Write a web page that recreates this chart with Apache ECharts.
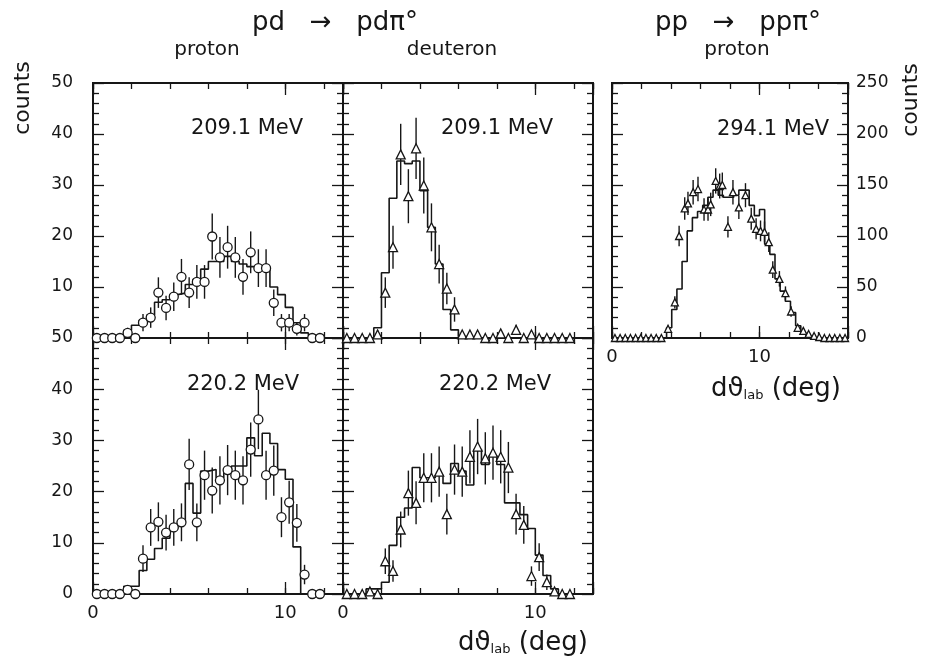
<!DOCTYPE html>
<html><head><meta charset="utf-8">
<script src="https://cdn.jsdelivr.net/npm/echarts/dist/echarts.min.js"></script>
<style>html,body{margin:0;padding:0;background:#fff}#c{width:932px;height:656px}</style>
</head><body><div id="c"></div>
<script>
// ---- data ----
const leftCenters = [0.2,0.6,1.0,1.4,1.8,2.2,2.6,3.0,3.4,3.8,4.2,4.6,5.0,5.4,5.8,6.2,6.6,7.0,7.4,7.8,8.2,8.6,9.0,9.4,9.8,10.2,10.6,11.0,11.4,11.8];
const leftEdges = [0,0.4,0.8,1.2,1.6,2.0,2.4,2.8,3.2,3.6,4.0,4.4,4.8,5.2,5.6,6.0,6.4,6.8,7.2,7.6,8.0,8.4,8.8,9.2,9.6,10.0,10.4,10.8,11.2,11.6,12.0];

// pd -> pd pi0, proton, 209.1 MeV
const tlY = [0,0,0,0,1,0,3,4,8.9,5.9,8.1,12,8.9,11,11,19.9,15.8,17.8,15.8,12,16.8,13.7,13.7,6.9,3,3,1.8,3,0,0];
const tlE = [0,0,0,0,1,0,1.7,2,3,2.4,2.8,3.5,3,3.3,3.3,4.5,4,4.2,4,3.5,4.1,3.7,3.7,2.6,1.7,1.7,1.3,1.7,0,0];
const tlH = [0,0,0,0.3,1.5,2.5,3.5,4.5,7,7.5,8.5,8.8,10.5,11.5,13.5,15,15,16,15,14.5,14,14,13.5,10,8.5,6,3,1,0.5,0];

// pd -> pd pi0, deuteron, 209.1 MeV
const tmY = [0,0,0,0,0.7,8.9,17.8,36,27.8,37.2,29.9,21.7,14.5,9.7,5.6,0.7,0.7,0.7,0,0,0.9,0,1.6,0,0.7,0,0,0,0,0];
const tmE = [0,0,0,0,0.8,3,4.2,6,5.3,6,5.5,4.7,3.8,3.1,2.4,0,0,0,0,0,0,0,1,0,0,0,0,0,0,0];
const tmH = [0,0,0,0,2,12.8,27.4,34.7,34.2,34.7,28.9,21.7,14.5,5.6,1.6,0.3,0,0,0,0,0,0,0,0,0,0,0,0,0,0];

// pd -> pd pi0, proton, 220.2 MeV
const blY = [0,0,0,0,0.8,0,6.9,13,14.1,12,13,14,25.3,14,23.2,20.2,22.2,24.2,23.2,22.2,28.2,34.1,23.2,24.1,15,17.9,13.9,3.8,0,0];
const blE = [0,0,0,0,0.9,0,2.6,3.6,3.8,3.5,3.6,3.7,5,3.7,4.8,4.5,4.7,4.9,4.8,4.7,5.3,5.8,4.8,4.9,3.9,4.2,3.7,1.9,0,0];
const blH = [0,0,0,0,1.5,1.5,4.6,6.8,8.9,10.9,12.8,14.1,21.6,15.8,24,24.3,22.7,24.3,25,25,30.5,27,31.4,29.4,24.3,22.4,9.2,0,0,0];

// pd -> pd pi0, deuteron, 220.2 MeV
const bmY = [0,0,0,0.5,0,6.4,4.5,12.6,19.7,17.8,22.7,22.7,23.9,15.6,24.3,23.9,26.8,28.8,26.5,27.6,26.8,24.7,15.6,13.5,3.5,7.2,2.3,0.5,0,0];
const bmE = [0,0,0,0.7,0,2.5,2.1,3.5,4.4,4.2,4.8,4.8,4.9,4,4.9,4.9,5.2,5.4,5.1,5.3,5.2,5,4,3.7,1.9,2.7,1.5,0.7,0,0];
const bmH = [0,0,0,1,1,2.3,9.5,15,16.8,24.7,22.7,22.7,23.2,21.6,25.5,24,21.3,28.2,25.3,27,25.3,17.8,17.8,15.5,12.8,7.6,3.6,1,0,0];

// pp -> pp pi0, proton, 294.1 MeV
const ppX = [0.2,0.55,0.9,1.25,1.6,1.95,2.3,2.65,3.0,3.35,3.8,4.26,4.55,4.93,5.15,5.5,5.83,6.24,6.51,6.69,7.03,7.3,7.48,7.86,8.2,8.6,9.05,9.44,9.77,10.07,10.34,10.63,10.9,11.35,11.76,12.14,12.59,12.97,13.33,13.7,14.05,14.4,14.75,15.1,15.45,15.8];
const ppY = [0,0,0,0,0,0,0,0,0,0,9,35,100,127,132,143,146,126,126,131,154,149,150,109,143,128,140,117,107,105,104,94,67,58,44,26,10,7,4,2,1,0,0,0,0,0];
const ppE = [0,0,0,0,0,0,0,0,0,0,3,6,10,11,11.5,12,12,11,11,11.5,12.4,12.2,12.2,10.4,12,11.3,11.8,10.8,10.3,10.2,10.2,9.7,8.2,7.6,6.6,5.1,3.2,2.6,2,1.4,1,0,0,0,0,0];
const ppEdges = [0,3.7,4.05,4.4,4.75,5.1,5.45,5.8,6.15,6.5,6.85,7.2,7.55,7.9,8.25,8.6,8.95,9.3,9.65,10.0,10.35,10.7,11.05,11.4,11.75,12.1,12.45,12.8,13.15,13.5,13.85];
const ppH = [0,10,28,48,75,105,118,124,130,138,145,140,138,138,140,145,145,130,120,126,92,82,58,46,36,25,12,5,2,0];

const xTickLabels = [0, 10];
const energyLabels = ['209.1 MeV','209.1 MeV','220.2 MeV','220.2 MeV','294.1 MeV'];

// ---- chart ----
const FONT = 'DejaVu Sans';
const INK = '#161616';
const lineSt = {color: INK, width: 1.3};

function stepData(edges, h, xmax) {
  const d = [];
  for (let i = 0; i < h.length; i++) d.push([edges[i], h[i]]);
  d.push([edges[h.length], 0]);
  d.push([xmax, 0]);
  return d;
}

const grids = [
  {left: 93, top: 83, width: 250, height: 255},
  {left: 343, top: 83, width: 250, height: 255},
  {left: 93, top: 338, width: 250, height: 256},
  {left: 343, top: 338, width: 250, height: 256},
  {left: 612, top: 83, width: 236, height: 255}
].map(g => Object.assign(g, {show: true, borderColor: INK, borderWidth: 2, backgroundColor: 'transparent'}));

const xAxis = [], yAxis = [];
function addX(g, max, labels) {
  const base = {gridIndex: g, type: 'value', min: 0, max: max, splitLine: {show: false},
    axisLine: {show: false, onZero: false}};
  const lab = {show: labels, margin: 10, fontSize: 18, fontFamily: FONT, color: INK,
    formatter: v => (xTickLabels.indexOf(v) >= 0 ? String(v) : '')};
  xAxis.push(Object.assign({}, base, {position: 'bottom', interval: 2, axisTick: {inside: true, length: 6, lineStyle: lineSt}, axisLabel: {show: false}}));
  xAxis.push(Object.assign({}, base, {position: 'bottom', interval: 10, axisTick: {inside: true, length: 12, lineStyle: lineSt}, axisLabel: lab}));
  xAxis.push(Object.assign({}, base, {position: 'top', interval: 2, axisTick: {inside: true, length: 6, lineStyle: lineSt}, axisLabel: {show: false}}));
  xAxis.push(Object.assign({}, base, {position: 'top', interval: 10, axisTick: {inside: true, length: 12, lineStyle: lineSt}, axisLabel: {show: false}}));
}
function addY(g, max, interval, leftLab, rightLab, hideMin) {
  const base = {gridIndex: g, type: 'value', min: 0, max: max, interval: interval, splitLine: {show: false},
    axisLine: {show: false, onZero: false},
    axisTick: {inside: true, length: 11, lineStyle: lineSt},
    minorTick: {show: true, splitNumber: 5, length: 6, lineStyle: lineSt}};
  const lab = (show, margin) => ({show: show, margin: margin, fontSize: 17, fontFamily: FONT, color: INK, showMinLabel: !hideMin});
  yAxis.push(Object.assign({}, base, {position: 'left', axisLabel: lab(leftLab, 20)}));
  yAxis.push(Object.assign({}, base, {position: 'right', axisLabel: lab(rightLab, 8)}));
}
addX(0, 13, false); addY(0, 50, 10, true, false, true);
addX(1, 13, false); addY(1, 50, 10, false, false, false);
addX(2, 13, true);  addY(2, 50, 10, true, false, false);
addX(3, 13, true);  addY(3, 50, 10, false, false, false);
addX(4, 16, true);  addY(4, 250, 50, false, true, false);

function errItem(params, api) {
  const x = api.value(0), y = api.value(1), e = api.value(2);
  if (!e) return;
  const p1 = api.coord([x, y + e]), p2 = api.coord([x, Math.max(0, y - e)]);
  return {type: 'line', shape: {x1: p1[0], y1: p1[1], x2: p2[0], y2: p2[1]}, style: {stroke: INK, lineWidth: 1.4}};
}
const series = [];
function panel(g, xs, ys, es, hist, symbol, size) {
  const xi = 4 * g, yi = 2 * g;
  series.push({type: 'line', xAxisIndex: xi, yAxisIndex: yi, data: hist, step: 'end', symbol: 'none',
    lineStyle: {color: INK, width: 1.6}, z: 2, silent: true});
  series.push({type: 'custom', xAxisIndex: xi, yAxisIndex: yi, renderItem: errItem, encode: {x: 0, y: 1},
    data: xs.map((x, i) => [x, ys[i], es[i]]), z: 3, silent: true});
  series.push({type: 'scatter', xAxisIndex: xi, yAxisIndex: yi, data: xs.map((x, i) => [x, ys[i]]),
    symbol: symbol, symbolSize: size, itemStyle: {color: '#fff', borderColor: INK, borderWidth: 1.3, opacity: 1}, z: 4, silent: true});
}
panel(0, leftCenters, tlY, tlE, stepData(leftEdges, tlH, 13), 'circle', 9);
panel(1, leftCenters, tmY, tmE, stepData(leftEdges, tmH, 13), 'triangle', 9);
panel(2, leftCenters, blY, blE, stepData(leftEdges, blH, 13), 'circle', 9);
panel(3, leftCenters, bmY, bmE, stepData(leftEdges, bmH, 13), 'triangle', 9);
panel(4, ppX, ppY, ppE, stepData(ppEdges, ppH, 16), 'triangle', 7);

const txt = (x, y, text, size, extra) => Object.assign({type: 'text', x: x, y: y,
  style: {text: text, fontSize: size, fontFamily: FONT, fill: INK, align: 'center', verticalAlign: 'middle'}}, extra || {});
const nameRich = {
  a: {fontSize: 26, fontFamily: FONT, fill: INK, verticalAlign: 'bottom', lineHeight: 30},
  s: {fontSize: 13, fontFamily: FONT, fill: INK, verticalAlign: 'bottom', lineHeight: 15}
};
const graphic = [
  txt(335, 23, 'pd   →   pdπ°', 26),
  txt(738, 23, 'pp   →   ppπ°', 26),
  txt(207, 50, 'proton', 20),
  txt(452, 50, 'deuteron', 20),
  txt(737, 50, 'proton', 20),
  txt(247, 129, energyLabels[0], 21),
  txt(497, 129, energyLabels[1], 21),
  txt(243, 385, energyLabels[2], 21),
  txt(495, 385, energyLabels[3], 21),
  txt(773, 130, energyLabels[4], 21),
  txt(23, 98, 'counts', 22, {rotation: Math.PI / 2}),
  txt(911, 100, 'counts', 22, {rotation: Math.PI / 2}),
  {type: 'text', x: 523, y: 641, style: {text: '{a|dϑ}{s|lab}{a| (deg)}', rich: nameRich, align: 'center', verticalAlign: 'middle'}},
  {type: 'text', x: 776, y: 387, style: {text: '{a|dϑ}{s|lab}{a| (deg)}', rich: nameRich, align: 'center', verticalAlign: 'middle'}}
];

const chart = echarts.init(document.getElementById('c'), null, {renderer: 'canvas'});
chart.setOption({animation: false, backgroundColor: '#fff', grid: grids, xAxis: xAxis, yAxis: yAxis, series: series, graphic: graphic});
</script>
</body></html>
